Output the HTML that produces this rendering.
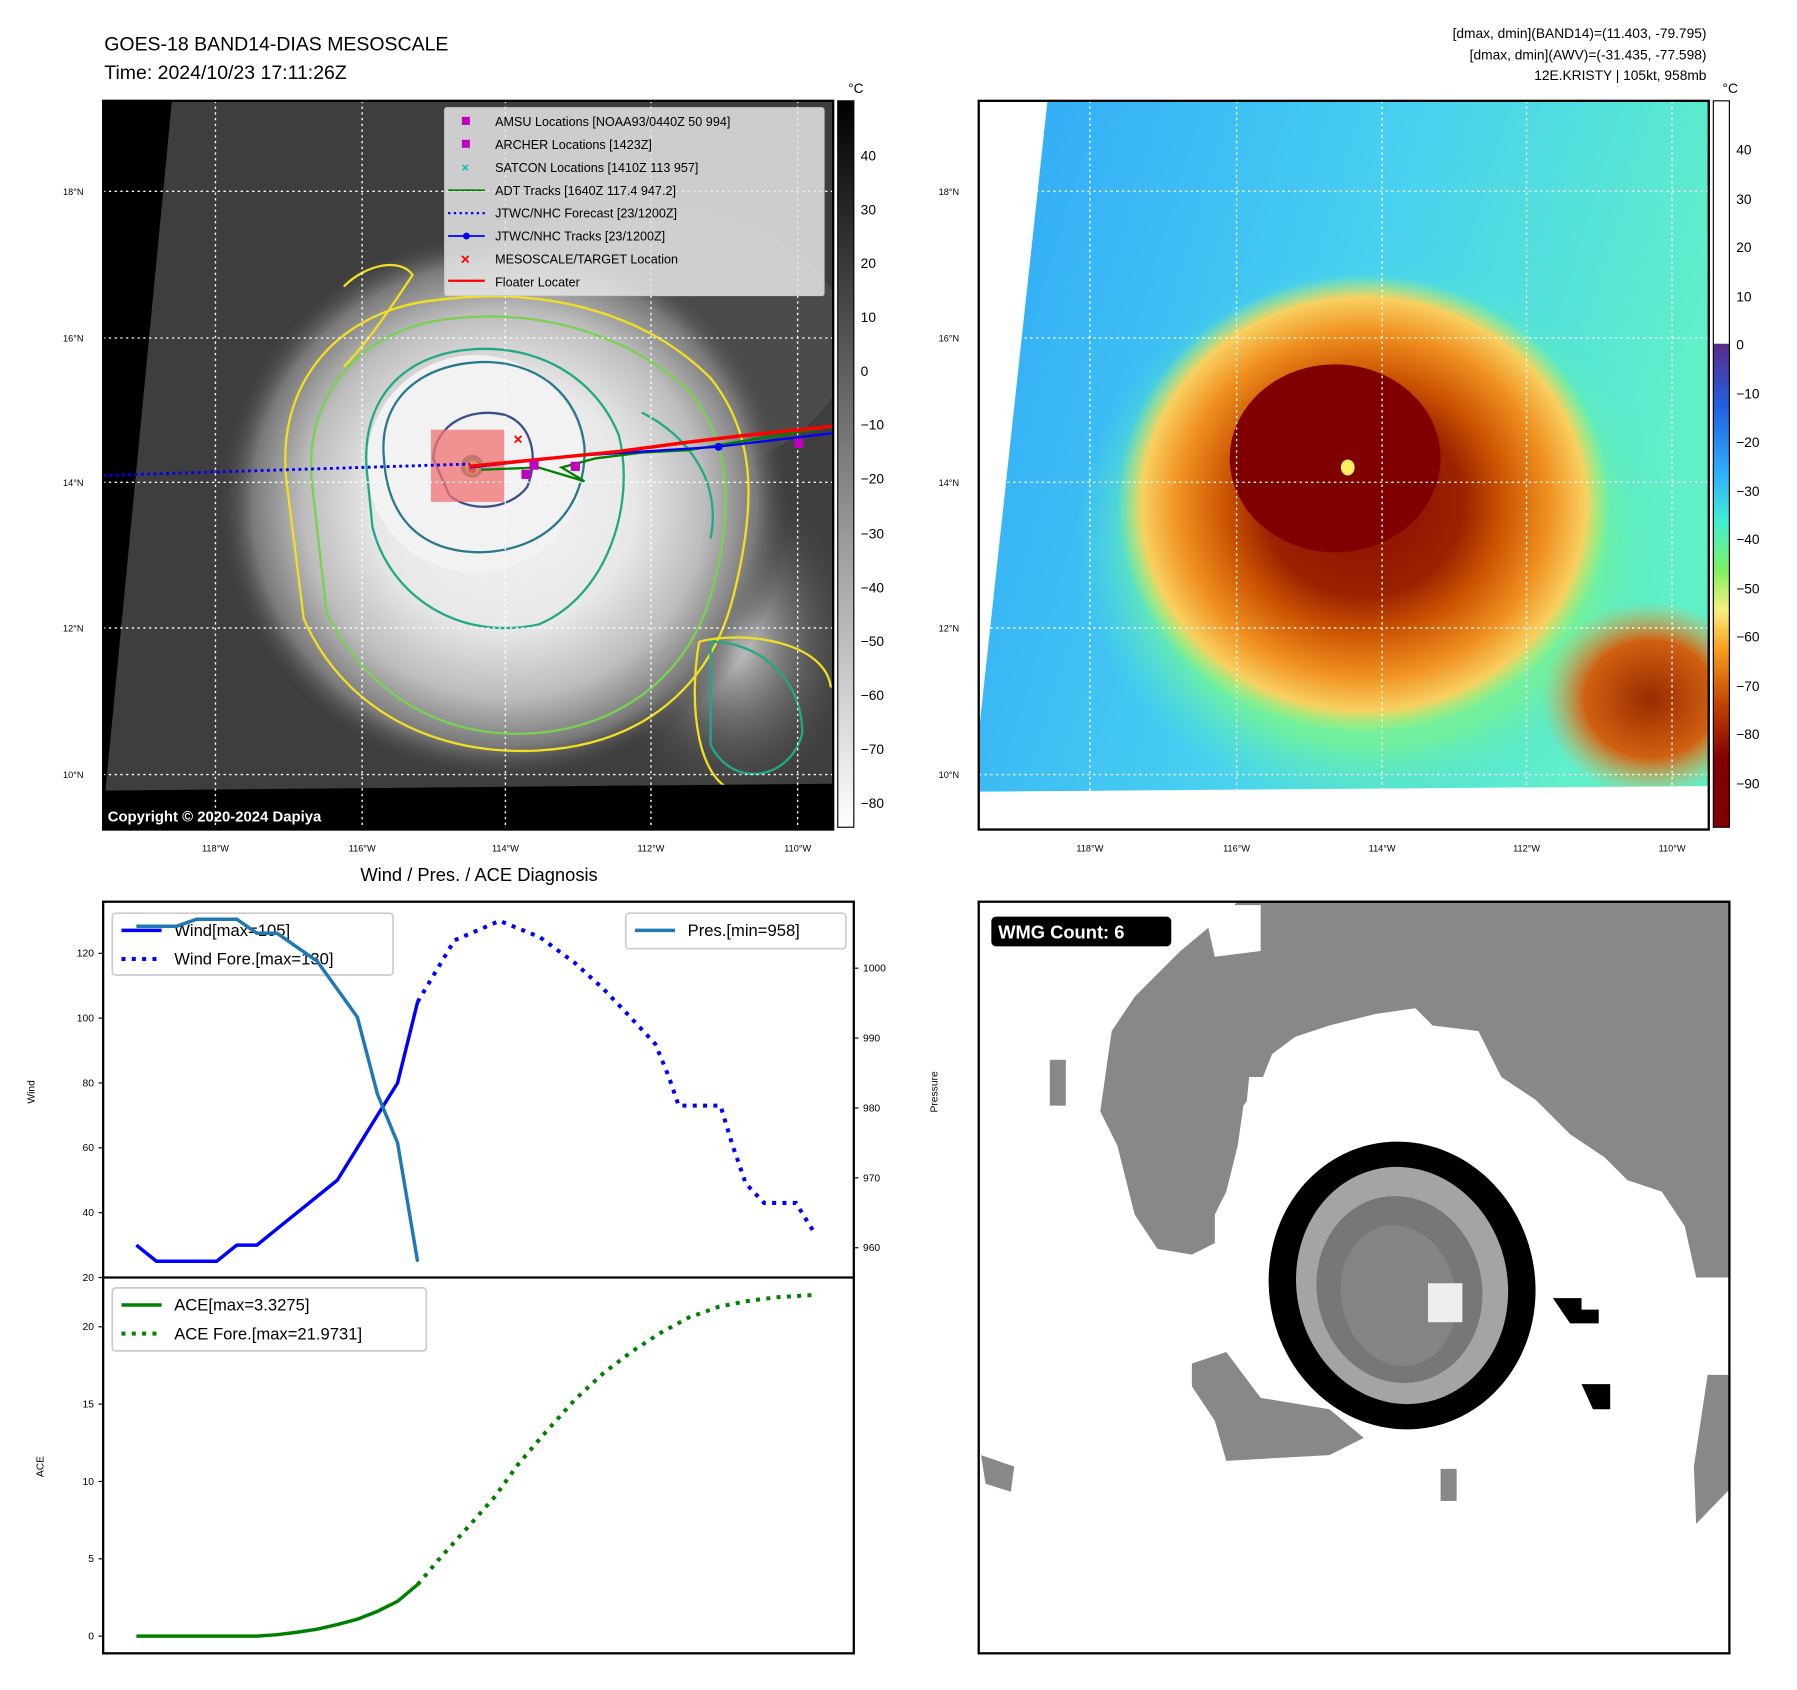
<!DOCTYPE html>
<html><head><meta charset="utf-8"><style>
html,body{margin:0;padding:0;background:#fff}
svg{display:block;font-family:"Liberation Sans","DejaVu Sans",sans-serif}
</style></head><body>
<svg id="root" width="1797" height="1690" viewBox="0 0 1568 1475" preserveAspectRatio="none" xmlns="http://www.w3.org/2000/svg">
<defs>
<radialGradient id="gStorm" cx="0.5" cy="0.5" r="0.5">
<stop offset="0" stop-color="#f4f4f4"/><stop offset="0.45" stop-color="#e8e8e8"/><stop offset="0.7" stop-color="#bdbdbd"/><stop offset="0.88" stop-color="#7a7a7a"/><stop offset="1" stop-color="#424242" stop-opacity="0"/></radialGradient>
<radialGradient id="gSE" cx="0.5" cy="0.5" r="0.5"><stop offset="0" stop-color="#d8d8d8"/><stop offset="1" stop-color="#505050" stop-opacity="0"/></radialGradient>
<radialGradient id="cGreen" cx="0.5" cy="0.5" r="0.5"><stop offset="0" stop-color="#a8f070"/><stop offset="0.75" stop-color="#70f0a0"/><stop offset="1" stop-color="#50e8d0" stop-opacity="0"/></radialGradient>
<radialGradient id="cOrange" cx="0.5" cy="0.5" r="0.5"><stop offset="0" stop-color="#8a0a00"/><stop offset="0.4" stop-color="#9a2200"/><stop offset="0.55" stop-color="#c85000"/><stop offset="0.75" stop-color="#f09020"/><stop offset="0.9" stop-color="#f8d060"/><stop offset="1" stop-color="#c0f060" stop-opacity="0"/></radialGradient>
<radialGradient id="cSE" cx="0.5" cy="0.5" r="0.5"><stop offset="0" stop-color="#9a2a00"/><stop offset="0.6" stop-color="#d06010"/><stop offset="1" stop-color="#f0a040" stop-opacity="0"/></radialGradient>
<linearGradient id="cbGray" x1="0" y1="0" x2="0" y2="1"><stop offset="0" stop-color="#000"/><stop offset="1" stop-color="#fff"/></linearGradient>
<linearGradient id="cbColor" x1="0" y1="0" x2="0" y2="1">
<stop offset="0" stop-color="#5a2a8a"/><stop offset="0.13" stop-color="#2060e0"/><stop offset="0.27" stop-color="#30b0ff"/><stop offset="0.37" stop-color="#40f0d0"/><stop offset="0.47" stop-color="#80f060"/><stop offset="0.55" stop-color="#f8f080"/><stop offset="0.63" stop-color="#f8a020"/><stop offset="0.75" stop-color="#c04000"/><stop offset="0.86" stop-color="#800000"/><stop offset="1" stop-color="#800000"/></linearGradient>
<linearGradient id="bgBlue" x1="0" y1="0" x2="1" y2="0.3"><stop offset="0" stop-color="#30a8f8"/><stop offset="0.55" stop-color="#48d0f0"/><stop offset="1" stop-color="#60f0c8"/></linearGradient>
<clipPath id="clipL"><rect x="90" y="88" width="637" height="636"/></clipPath>
<clipPath id="clipR"><polygon points="914,88 1491,88 1491,686 854,691 854,640"/></clipPath>
<clipPath id="clipB"><rect x="854" y="787" width="655" height="656"/></clipPath>
</defs>

<text x="91" y="44" font-size="17">GOES-18 BAND14-DIAS MESOSCALE</text>
<text x="91" y="69" font-size="17">Time: 2024/10/23 17:11:26Z</text>
<g font-size="12" text-anchor="end">
<text x="1489" y="33">[dmax, dmin](BAND14)=(11.403, -79.795)</text>
<text x="1489" y="52">[dmax, dmin](AWV)=(-31.435, -77.598)</text>
<text x="1489" y="70">12E.KRISTY | 105kt, 958mb</text>
</g>

<!-- LEFT MAP -->
<g clip-path="url(#clipL)">
<rect x="90" y="88" width="637" height="636" fill="#3e3e3e"/>
<ellipse cx="560" cy="300" rx="180" ry="120" fill="#555" opacity="0.6"/>
<ellipse cx="640" cy="560" rx="110" ry="140" fill="url(#gSE)"/>
<ellipse cx="440" cy="440" rx="250" ry="240" fill="url(#gStorm)"/>
<ellipse cx="415" cy="405" rx="95" ry="95" fill="#f2f2f2"/>
<g fill="none" stroke-width="2">
<path d="M250,420 C240,330 300,270 380,262 C470,250 560,270 620,330 C660,380 660,440 640,520 C620,600 560,650 470,655 C380,660 300,620 265,540 Z" stroke="#f0e020"/>
<path d="M272,420 C265,340 320,285 395,278 C470,270 545,290 600,340 C640,385 640,450 620,520 C600,590 540,635 465,640 C385,645 320,605 285,535 Z" stroke="#7ad151"/>
<path d="M320,410 C315,350 350,310 410,305 C470,300 520,330 540,380 C555,440 530,520 470,545 C400,560 340,520 325,460 Z" stroke="#22a884"/>
<path d="M335,400 C330,350 365,318 420,316 C470,315 505,345 510,390 C512,440 480,480 420,482 C365,482 338,450 335,400 Z" stroke="#2a788e"/>
<path d="M378,400 C380,370 410,355 440,362 C465,370 470,400 460,425 C445,445 410,448 392,432 Z" stroke="#3b4f8a"/>
<path d="M560,360 C600,380 630,420 620,470" stroke="#22a884"/>
<path d="M620,560 C660,560 700,590 700,640 C690,680 640,690 620,650 Z" stroke="#22a884"/>
<path d="M610,560 C650,550 720,560 725,600 M610,560 C600,620 610,680 640,690" stroke="#f0e020"/>
<path d="M300,250 C320,230 350,225 360,240 C340,270 320,300 300,320" stroke="#f0e020"/>
</g>
<circle cx="412" cy="407" r="10" fill="#3b8a6e"/><circle cx="412" cy="408" r="6" fill="#f0e020"/><circle cx="412" cy="409" r="4" fill="#8a2020"/>
<rect x="376" y="375" width="64" height="63" fill="#f07070" opacity="0.75"/>
<polygon points="90,88 150,88 92,690 90,690" fill="#000"/>
<polygon points="90,690 727,684 727,724 90,724" fill="#000"/>
<g stroke="#fff" stroke-width="1.2" stroke-dasharray="2,3">
<line x1="188" y1="88" x2="188" y2="724"/><line x1="316" y1="88" x2="316" y2="724"/><line x1="441" y1="88" x2="441" y2="724"/><line x1="568" y1="88" x2="568" y2="724"/><line x1="696" y1="88" x2="696" y2="724"/>
<line x1="90" y1="167" x2="727" y2="167"/><line x1="90" y1="295" x2="727" y2="295"/><line x1="90" y1="421" x2="727" y2="421"/><line x1="90" y1="548" x2="727" y2="548"/><line x1="90" y1="676" x2="727" y2="676"/>
</g>
<line x1="90" y1="415" x2="410" y2="405" stroke="#0000ff" stroke-width="2.5" stroke-dasharray="2.5,3"/>
<polyline points="420,410 470,408 510,420 490,408 520,400 560,395 600,393 727,372" fill="none" stroke="#008000" stroke-width="2"/>
<polyline points="410,408 500,398 625,390 727,378" fill="none" stroke="#0000ff" stroke-width="2"/>
<circle cx="627" cy="390" r="3.5" fill="#0000ff"/>
<polyline points="410,407 480,400 540,394 600,386 650,380 727,372" fill="none" stroke="#ff0000" stroke-width="3"/>
<g fill="#c000c0"><rect x="455" y="410" width="8" height="8"/><rect x="462" y="402" width="8" height="8"/><rect x="498" y="403" width="8" height="8"/><rect x="693" y="383" width="8" height="8"/></g>
<text x="452" y="388" fill="#ff0000" font-size="14" font-weight="bold" text-anchor="middle">×</text>
<text x="94" y="717" fill="#fff" font-size="13" font-weight="bold">Copyright © 2020-2024 Dapiya</text>
</g>
<rect x="90" y="88" width="637" height="636" fill="none" stroke="#000" stroke-width="2"/>
<g font-size="11">
<rect x="388" y="94" width="331" height="164" fill="#e6e6e6" fill-opacity="0.85" stroke="#ccc" rx="2"/>
<rect x="403" y="102" width="7" height="7" fill="#c000c0"/><text x="432" y="110">AMSU Locations [NOAA93/0440Z 50 994]</text>
<rect x="403" y="122" width="7" height="7" fill="#c000c0"/><text x="432" y="130">ARCHER Locations [1423Z]</text>
<text x="406" y="150" fill="#00c0c0" font-size="11" font-weight="bold" text-anchor="middle">×</text><text x="432" y="150">SATCON Locations [1410Z 113 957]</text>
<line x1="391" y1="166" x2="423" y2="166" stroke="#008000" stroke-width="1.5"/><text x="432" y="170">ADT Tracks [1640Z 117.4 947.2]</text>
<line x1="391" y1="186" x2="423" y2="186" stroke="#0000ff" stroke-width="2" stroke-dasharray="2,3"/><text x="432" y="190">JTWC/NHC Forecast [23/1200Z]</text>
<line x1="391" y1="206" x2="423" y2="206" stroke="#0000ff" stroke-width="1.5"/><circle cx="407" cy="206" r="3" fill="#0000ff"/><text x="432" y="210">JTWC/NHC Tracks [23/1200Z]</text>
<text x="406" y="231" fill="#ff0000" font-size="14" font-weight="bold" text-anchor="middle">×</text><text x="432" y="230">MESOSCALE/TARGET Location</text>
<line x1="391" y1="245" x2="423" y2="245" stroke="#ff0000" stroke-width="2"/><text x="432" y="250">Floater Locater</text>
</g>
<rect x="731" y="88" width="14" height="634" fill="url(#cbGray)" stroke="#000" stroke-width="1"/>
<text x="740" y="81" font-size="12">°C</text>
<g font-size="12">
<text x="751" y="140">40</text><text x="751" y="187">30</text><text x="751" y="234">20</text><text x="751" y="281">10</text><text x="751" y="328">0</text><text x="751" y="375">−10</text><text x="751" y="422">−20</text><text x="751" y="470">−30</text><text x="751" y="517">−40</text><text x="751" y="564">−50</text><text x="751" y="611">−60</text><text x="751" y="658">−70</text><text x="751" y="705">−80</text>
</g>
<g font-size="8">
<text x="55" y="170">18°N</text><text x="55" y="298">16°N</text><text x="55" y="424">14°N</text><text x="55" y="551">12°N</text><text x="55" y="679">10°N</text>
<g text-anchor="middle"><text x="188" y="743">118°W</text><text x="316" y="743">116°W</text><text x="441" y="743">114°W</text><text x="568" y="743">112°W</text><text x="696" y="743">110°W</text></g>
</g>

<!-- RIGHT MAP -->
<rect x="854" y="88" width="637" height="636" fill="#fff"/>
<g clip-path="url(#clipR)">
<rect x="854" y="88" width="637" height="636" fill="url(#bgBlue)"/>
<ellipse cx="1200" cy="470" rx="260" ry="240" fill="url(#cGreen)"/>
<ellipse cx="1190" cy="440" rx="215" ry="200" fill="url(#cOrange)"/>
<ellipse cx="1165" cy="400" rx="92" ry="82" fill="#800000"/>
<ellipse cx="1440" cy="610" rx="95" ry="85" fill="url(#cSE)"/>
<ellipse cx="1176" cy="408" rx="6" ry="7" fill="#f8f060"/>
</g>
<g stroke="#fff" stroke-width="1.2" stroke-dasharray="2,3">
<line x1="951" y1="88" x2="951" y2="724"/><line x1="1079" y1="88" x2="1079" y2="724"/><line x1="1206" y1="88" x2="1206" y2="724"/><line x1="1332" y1="88" x2="1332" y2="724"/><line x1="1459" y1="88" x2="1459" y2="724"/>
<line x1="854" y1="167" x2="1491" y2="167"/><line x1="854" y1="295" x2="1491" y2="295"/><line x1="854" y1="421" x2="1491" y2="421"/><line x1="854" y1="548" x2="1491" y2="548"/><line x1="854" y1="676" x2="1491" y2="676"/>
</g>
<rect x="854" y="88" width="637" height="636" fill="none" stroke="#000" stroke-width="2"/>
<rect x="1495" y="88" width="14" height="212" fill="#fff"/>
<rect x="1495" y="300" width="14" height="422" fill="url(#cbColor)"/>
<rect x="1495" y="88" width="14" height="634" fill="none" stroke="#000" stroke-width="1"/>
<text x="1503" y="81" font-size="12">°C</text>
<g font-size="12">
<text x="1515" y="135">40</text><text x="1515" y="178">30</text><text x="1515" y="220">20</text><text x="1515" y="263">10</text><text x="1515" y="305">0</text><text x="1515" y="348">−10</text><text x="1515" y="390">−20</text><text x="1515" y="433">−30</text><text x="1515" y="475">−40</text><text x="1515" y="518">−50</text><text x="1515" y="560">−60</text><text x="1515" y="603">−70</text><text x="1515" y="645">−80</text><text x="1515" y="688">−90</text>
</g>
<g font-size="8">
<text x="819" y="170">18°N</text><text x="819" y="298">16°N</text><text x="819" y="424">14°N</text><text x="819" y="551">12°N</text><text x="819" y="679">10°N</text>
<g text-anchor="middle"><text x="951" y="743">118°W</text><text x="1079" y="743">116°W</text><text x="1206" y="743">114°W</text><text x="1332" y="743">112°W</text><text x="1459" y="743">110°W</text></g>
</g>

<!-- BOTTOM RIGHT WMG -->
<g clip-path="url(#clipB)">
<rect x="854" y="787" width="655" height="656" fill="#fff"/>
<polygon fill="#888" points="1080,787 1509,787 1509,1115 1480,1115 1470,1070 1450,1040 1420,1030 1400,1010 1370,990 1340,960 1310,940 1290,900 1250,895 1235,880 1200,885 1160,895 1130,905 1110,920 1100,945 1085,965 1080,1000 1070,1040 1060,1060 1060,1085 1040,1095 1010,1090 990,1060 975,1000 960,970 970,900 990,870 1030,830 1060,805"/>
<polygon fill="#fff" points="1050,790 1100,790 1100,830 1060,835"/>
<polygon fill="#fff" points="1090,940 1130,940 1130,1000 1095,1020 1085,990"/>
<polygon fill="#888" points="1040,1190 1070,1180 1100,1220 1160,1230 1190,1255 1160,1270 1070,1275 1060,1240 1040,1210"/>
<polygon fill="#888" points="1490,1200 1509,1200 1509,1300 1480,1330 1478,1280"/>
<polygon fill="#888" points="856,1270 885,1280 882,1302 860,1295"/>
<rect x="916" y="925" width="14" height="40" fill="#888"/><rect x="1257" y="1282" width="14" height="28" fill="#888"/>
<g transform="rotate(-12 1223 1120)">
<ellipse cx="1223" cy="1122" rx="116" ry="126" fill="#000"/>
<ellipse cx="1223" cy="1122" rx="92" ry="104" fill="#a4a4a4"/>
<ellipse cx="1220" cy="1125" rx="72" ry="82" fill="#777"/>
<ellipse cx="1218" cy="1130" rx="50" ry="62" fill="#848484"/>
</g>
<rect x="1246" y="1120" width="30" height="34" fill="#eee"/>
<polygon fill="#000" points="1355,1133 1380,1133 1380,1143 1395,1143 1395,1155 1370,1155"/>
<polygon fill="#000" points="1380,1208 1405,1208 1405,1230 1390,1230"/>
<rect x="865" y="800" width="157" height="26" rx="4" fill="#000"/>
<text x="871" y="819" fill="#fff" font-size="16" font-weight="bold">WMG Count: 6</text>
</g>
<rect x="854" y="787" width="655" height="656" fill="none" stroke="#000" stroke-width="2"/>

<text x="418" y="769" font-size="16" text-anchor="middle">Wind / Pres. / ACE Diagnosis</text>
<g id="chart"></g>
</svg>
<script>
var obsHours = [0,6,12,18,24,30,36,42,48,54,60,66,72,78,84];
var obsWind = [30,25,25,25,25,30,30,35,40,45,50,60,70,80,105];
var obsPres = [1006,1006,1006,1007,1007,1007,1005,1005,1003,1001,997,993,982,975,958];
var obsAce = [0,0,0,0,0,0,0,0.1,0.25,0.45,0.75,1.1,1.6,2.25,3.33];
var foreWindHours = [84,95,108.5,120.5,131,139.5,146,155,159,162,174.5,178,182,187.5,197,203];
var foreWind = [105,124,130,125,117,109,102,92,82,73,73,61,49,43,43,33];
var foreAceHours = [84,90.5,98,107,114,121.5,131,139.5,148,156.5,165,174,182,191,203];
var foreAce = [3.33,5.0,6.8,9.0,11.1,13.0,15.3,17.0,18.4,19.6,20.6,21.3,21.65,21.9,22.07];
var windTicks = [20,40,60,80,100,120];
var presTicks = [960,970,980,990,1000];
var aceTicks = [0,5,10,15,20];

var NS = 'http://www.w3.org/2000/svg';
var L = 90, R = 745, T = 787, MID = 1115, B = 1443;
function xS(h){ return 119 + h * (712 - 119) / 203; }
function yW(w){ return MID - (w - 20) * (MID - 832) / 100; }
function yP(p){ return 1089 - (p - 960) * (1089 - 845) / 40; }
function yA(a){ return 1428 - a * (1428 - 1158) / 20; }
var chart = document.getElementById('chart');
function mk(tag, attrs, parent){
  var e = document.createElementNS(NS, tag);
  for (var k in attrs) e.setAttribute(k, attrs[k]);
  (parent || chart).appendChild(e);
  return e;
}
function pts(xs, ys, fy){ return xs.map(function(h,i){ return xS(h).toFixed(1)+','+fy(ys[i]).toFixed(1); }).join(' '); }

var frame = mk('rect', {x:L, y:T, width:R-L, height:B-T, fill:'#fff', stroke:'#000', 'stroke-width':2});


mk('line', {x1:L, y1:MID, x2:R, y2:MID, stroke:'#000', 'stroke-width':2});

windTicks.forEach(function(t){
  var y = yW(t);
  mk('line', {x1:L-4, y1:y, x2:L, y2:y, stroke:'#000'});
  var tx = mk('text', {x:L-8, y:y+3, 'font-size':9, 'text-anchor':'end'}); tx.textContent = t;
  
  
});
presTicks.forEach(function(t){
  var y = yP(t);
  mk('line', {x1:R, y1:y, x2:R+4, y2:y, stroke:'#000'});
  var tx = mk('text', {x:R+8, y:y+3, 'font-size':9}); tx.textContent = t;
  
  
});
aceTicks.forEach(function(t){
  var y = yA(t);
  mk('line', {x1:L-4, y1:y, x2:L, y2:y, stroke:'#000'});
  var tx = mk('text', {x:L-8, y:y+3, 'font-size':9, 'text-anchor':'end'}); tx.textContent = t;
  
  
});
var yl1 = mk('text', {x:0, y:0, 'font-size':9, 'text-anchor':'middle', transform:'translate(30,953) rotate(-90)'}); yl1.textContent = 'Wind';


var yl2 = mk('text', {x:0, y:0, 'font-size':9, 'text-anchor':'middle', transform:'translate(818,953) rotate(-90)'}); yl2.textContent = 'Pressure';


var yl3 = mk('text', {x:0, y:0, 'font-size':9, 'text-anchor':'middle', transform:'translate(38,1280) rotate(-90)'}); yl3.textContent = 'ACE';



var wl = mk('polyline', {points:pts(obsHours, obsWind, yW), fill:'none', stroke:'#0000ff', 'stroke-width':3});


var wf = mk('polyline', {points:pts(foreWindHours, foreWind, yW), fill:'none', stroke:'#0000ff', 'stroke-width':3.5, 'stroke-dasharray':'3.5,5.5'});


var pl = mk('polyline', {points:pts(obsHours, obsPres, yP), fill:'none', stroke:'#1f77b4', 'stroke-width':3});


var al = mk('polyline', {points:pts(obsHours, obsAce, yA), fill:'none', stroke:'#008000', 'stroke-width':3});


var af = mk('polyline', {points:pts(foreAceHours, foreAce, yA), fill:'none', stroke:'#008000', 'stroke-width':3.5, 'stroke-dasharray':'3.5,5.5'});



function legend(x, y, w, h, items, name){
  var g = mk('g', {});
  
  
  mk('rect', {x:x, y:y, width:w, height:h, rx:3, fill:'#fff', 'fill-opacity':0.8, stroke:'#ccc', 'stroke-width':1.5}, g);
  items.forEach(function(it, i){
    var yy = y + 15 + i * 25;
    var ln = {x1:x+8, y1:yy, x2:x+43, y2:yy, stroke:it[1], 'stroke-width':it[2] ? 3.5 : 3};
    if (it[2]) ln['stroke-dasharray'] = '3.5,5.5';
    mk('line', ln, g);
    var t = mk('text', {x:x+54, y:yy+5, 'font-size':14.5}, g); t.textContent = it[0];
  });
}
legend(98, 797, 245, 54, [['Wind[max=105]','#0000ff',false],['Wind Fore.[max=130]','#0000ff',true]], 'wind-legend');
legend(546, 797, 192, 31, [['Pres.[min=958]','#1f77b4',false]], 'pressure-legend');
legend(98, 1124, 274, 55, [['ACE[max=3.3275]','#008000',false],['ACE Fore.[max=21.9731]','#008000',true]], 'ace-legend');
chart.appendChild(pl);
</script>
</body></html>
